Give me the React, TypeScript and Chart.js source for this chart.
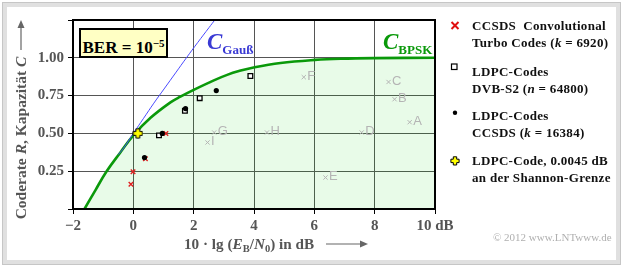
import React, { useEffect, useRef } from "react";
import { Chart, registerables } from "chart.js";

Chart.register(...registerables);

// C_BPSK curve (x in dB, R)
const bpskX = [-1.62, -1.25, -0.89, -0.43, 0.0, 0.57, 1.23, 1.56, 2.0, 2.67, 3.11, 3.5, 4.02, 4.88, 6.02, 6.87, 8.0, 10.0];
const bpskR = [0, 0.127, 0.248, 0.374, 0.487, 0.603, 0.705, 0.743, 0.788, 0.851, 0.887, 0.912, 0.938, 0.966, 0.986, 0.994, 0.998, 1.0];
// C_Gauss curve
const gaussX = [-0.5, -0.33, 0.0, 0.34, 0.68, 1.04, 1.4, 1.76, 2.13, 2.51, 2.7];
const gaussR = [0.36, 0.4, 0.5, 0.6, 0.7, 0.8, 0.9, 1.0, 1.1, 1.2, 1.25];
// CCSDS convolutional turbo codes (k = 6920)
const turboX = [-0.08, -0.01, 0.4, 1.08];
const turboR = [0.163, 0.247, 0.332, 0.5];
// LDPC DVB-S2 (n = 64800)
const dvbX = [0.85, 1.71, 2.2, 3.88];
const dvbR = [0.487, 0.65, 0.733, 0.88];
// LDPC CCSDS (k = 16384)
const ccsdsX = [0.37, 0.96, 1.73, 2.75];
const ccsdsR = [0.34, 0.5, 0.664, 0.783];
// LDPC code 0.0045 dB from Shannon limit
const shannonX = [0.15];
const shannonR = [0.5];
// other (gray) systems
const otherLabels = ["A", "B", "C", "D", "E", "F", "G", "H", "I"];
const otherX = [9.16, 8.66, 8.46, 7.57, 6.37, 5.65, 2.68, 4.43, 2.46];
const otherR = [0.574, 0.726, 0.84, 0.506, 0.208, 0.872, 0.506, 0.506, 0.44];
// axes
const xMin = -2, xMax = 10, xStep = 2;
const yMin = 0, yMax = 1.25, yStep = 0.25;

const pts = (xs: number[], ys: number[]) => xs.map((x, i) => ({ x, y: ys[i] }));

const SERIF = "'Liberation Serif', 'Times New Roman', serif";
const SANS = "'Liberation Sans', Arial, sans-serif";

function makePlus(): HTMLCanvasElement {
  const c = document.createElement("canvas");
  c.width = 11;
  c.height = 11;
  const g = c.getContext("2d")!;
  const m = 5.5, a = 4.6, w = 1.9;
  g.beginPath();
  g.moveTo(m - w, m - a);
  g.lineTo(m + w, m - a);
  g.lineTo(m + w, m - w);
  g.lineTo(m + a, m - w);
  g.lineTo(m + a, m + w);
  g.lineTo(m + w, m + w);
  g.lineTo(m + w, m + a);
  g.lineTo(m - w, m + a);
  g.lineTo(m - w, m + w);
  g.lineTo(m - a, m + w);
  g.lineTo(m - a, m - w);
  g.lineTo(m - w, m - w);
  g.closePath();
  g.fillStyle = "#ffff00";
  g.fill();
  g.strokeStyle = "#000";
  g.lineWidth = 1;
  g.stroke();
  return c;
}

const frameAndLabels = {
  id: "frameAndLabels",
  afterDatasetsDraw(chart: any) {
    const { ctx, chartArea } = chart;
    chart.data.datasets.forEach((ds: any, i: number) => {
      if (!ds.pointLabels) return;
      const meta = chart.getDatasetMeta(i);
      ctx.save();
      ctx.font = `13px ${SANS}`;
      ctx.fillStyle = "#b4b4b4";
      ctx.textBaseline = "middle";
      ctx.textAlign = "left";
      meta.data.forEach((el: any, j: number) => {
        ctx.fillText(ds.pointLabels[j], el.x + 3.5, el.y - 1);
      });
      ctx.restore();
    });
    ctx.save();
    ctx.strokeStyle = "#000";
    ctx.lineWidth = 2;
    ctx.strokeRect(chartArea.left, chartArea.top, chartArea.right - chartArea.left, chartArea.bottom - chartArea.top);
    ctx.restore();
  },
};

function ChartCanvas() {
  const ref = useRef<HTMLCanvasElement | null>(null);
  useEffect(() => {
    if (!ref.current) return;
    const plus = makePlus();
    const chart = new Chart(ref.current, {
      type: "line",
      data: {
        datasets: [
          {
            label: "C_BPSK",
            data: pts(bpskX, bpskR),
            borderColor: "#0a990a",
            borderWidth: 2.6,
            pointRadius: 0,
            fill: "origin",
            backgroundColor: "rgba(0, 215, 0, 0.09)",
            tension: 0.4,
            order: 10,
          },
          {
            label: "C_Gauss",
            data: pts(gaussX, gaussR),
            borderColor: "#4a4aff",
            borderWidth: 1,
            pointRadius: 0,
            fill: false,
            tension: 0.4,
            order: 9,
          },
          {
            label: "other",
            data: pts(otherX, otherR),
            showLine: false,
            pointStyle: "crossRot",
            pointRadius: 3,
            borderColor: "#b4b4b4",
            borderWidth: 1,
            pointLabels: otherLabels,
            order: 8,
          } as any,
          {
            label: "Turbo",
            data: pts(turboX, turboR),
            showLine: false,
            pointStyle: "crossRot",
            pointRadius: 3.2,
            borderColor: "#e02020",
            borderWidth: 1.4,
            order: 5,
          },
          {
            label: "DVB-S2",
            data: pts(dvbX, dvbR),
            showLine: false,
            pointStyle: "rect",
            pointRadius: 3.3,
            backgroundColor: "#ffffff",
            borderColor: "#000",
            borderWidth: 1.3,
            order: 4,
          },
          {
            label: "CCSDS",
            data: pts(ccsdsX, ccsdsR),
            showLine: false,
            pointStyle: "circle",
            pointRadius: 2.6,
            backgroundColor: "#000",
            borderColor: "#000",
            borderWidth: 0,
            order: 3,
          },
          {
            label: "Shannon",
            data: pts(shannonX, shannonR),
            showLine: false,
            pointStyle: plus,
            pointRadius: 5,
            order: 1,
          },
        ],
      },
      options: {
        responsive: false,
        maintainAspectRatio: false,
        animation: false,
        events: [],
        layout: { padding: { left: 0, top: 20, right: 188, bottom: 0 } },
        plugins: { legend: { display: false }, tooltip: { enabled: false } },
        scales: {
          x: {
            type: "linear",
            min: xMin,
            max: xMax,
            afterFit: (s: any) => {
              s.height = 58;
            },
            ticks: {
              stepSize: xStep,
              padding: 3,
              maxRotation: 0,
              color: "#555",
              font: { family: SERIF, size: 15, weight: "bold" },
              callback: (v: any) => {
                const n = Number(v);
                if (n === xMax) return n + " dB";
                return n < 0 ? "\u2212" + Math.abs(n) : String(n);
              },
            },
            grid: { color: "#555", lineWidth: 1, tickLength: 5, tickColor: "#000", drawTicks: true },
            border: { display: false },
          },
          y: {
            type: "linear",
            min: yMin,
            max: yMax,
            afterFit: (s: any) => {
              s.width = 73;
            },
            ticks: {
              stepSize: yStep,
              padding: 4,
              color: "#555",
              font: { family: SERIF, size: 15, weight: "bold" },
              callback: (v: any) => {
                const n = Number(v);
                if (n <= yMin + 1e-6 || n >= yMax - 1e-6) return "";
                return n.toFixed(2);
              },
            },
            grid: { color: "#555", lineWidth: 1, tickLength: 5, tickColor: "#000", drawTicks: true },
            border: { display: false },
          },
        },
      } as any,
      plugins: [frameAndLabels],
    });
    return () => chart.destroy();
  }, []);
  return <canvas ref={ref} width={623} height={267} style={{ display: "block", position: "absolute", left: 0, top: 0 }} />;
}

const sub = (t: string, size = 10.5): React.ReactNode => (
  <span style={{ fontSize: size, verticalAlign: "-0.3em", fontStyle: "normal" }}>{t}</span>
);

const legendText: React.CSSProperties = {
  position: "absolute",
  left: 472,
  fontFamily: SERIF,
  fontWeight: "bold",
  fontSize: 13,
  lineHeight: "17px",
  color: "#111",
  whiteSpace: "pre",
  letterSpacing: 0.3,
};

export default function App() {
  return (
    <div style={{ position: "fixed", left: 0, top: 0, width: 623, height: 267, background: "#fff", overflow: "hidden" }}>
      <ChartCanvas />
      {/* outer frame */}
      <div style={{ position: "absolute", left: 2, top: 2, width: 619, height: 263, boxSizing: "border-box", border: "1px solid #c6c6c6", pointerEvents: "none" }} />
      <div style={{ position: "absolute", left: 3, top: 3, width: 617, height: 261, boxSizing: "border-box", border: "4px solid #e0e0e0", pointerEvents: "none" }} />

      <svg width={623} height={267} style={{ position: "absolute", left: 0, top: 0, pointerEvents: "none" }}>
        {/* y-axis arrow */}
        <line x1={21} y1={50} x2={21} y2={26} stroke="#666" strokeWidth={1.2} />
        <polygon points="21,20 17.5,28 24.5,28" fill="#666" />
        {/* x-axis arrow */}
        <line x1={326} y1={244} x2={362} y2={244} stroke="#666" strokeWidth={1.2} />
        <polygon points="368,244 360,240.5 360,247.5" fill="#666" />
        {/* legend markers */}
        <line x1={451.5} y1={22} x2={458.5} y2={29} stroke="#e01010" strokeWidth={2} />
        <line x1={458.5} y1={22} x2={451.5} y2={29} stroke="#e01010" strokeWidth={2} />
        <rect x={451.5} y={64} width={5.5} height={5.5} fill="#fff" stroke="#000" strokeWidth={1.2} />
        <circle cx={455} cy={112.7} r={2.2} fill="#000" />
        <polygon
          points="453.3,156.8 456.7,156.8 456.7,159.2 459.1,159.2 459.1,162.6 456.7,162.6 456.7,165 453.3,165 453.3,162.6 450.9,162.6 450.9,159.2 453.3,159.2"
          fill="#ffff00"
          stroke="#000"
          strokeWidth={1}
        />
      </svg>

      {/* BER box */}
      <div
        style={{
          position: "absolute",
          left: 79,
          top: 28,
          width: 89,
          height: 30,
          boxSizing: "border-box",
          border: "2px solid #000",
          background: "#ffffc4",
          fontFamily: SERIF,
          fontWeight: "bold",
          fontSize: 17,
          lineHeight: "26px",
          textAlign: "center",
          color: "#000",
        }}
      >
        BER = 10<span style={{ fontSize: 11, verticalAlign: "0.55em" }}>−5</span>
      </div>

      {/* curve labels */}
      <div style={{ position: "absolute", left: 207, top: 30, fontFamily: SERIF, fontWeight: "bold", color: "#3a3ad4", lineHeight: "24px", whiteSpace: "nowrap" }}>
        <span style={{ fontSize: 23, fontStyle: "italic" }}>C</span>
        <span style={{ fontSize: 13, verticalAlign: "-0.35em" }}>Gauß</span>
      </div>
      <div style={{ position: "absolute", left: 383, top: 30, fontFamily: SERIF, fontWeight: "bold", color: "#0a990a", lineHeight: "24px", whiteSpace: "nowrap" }}>
        <span style={{ fontSize: 23, fontStyle: "italic" }}>C</span>
        <span style={{ fontSize: 13, verticalAlign: "-0.35em" }}>BPSK</span>
      </div>

      {/* axis titles */}
      <div
        style={{
          position: "absolute",
          left: 21 - 90,
          top: 138 - 10,
          width: 180,
          height: 20,
          lineHeight: "20px",
          textAlign: "center",
          transform: "rotate(-90deg)",
          transformOrigin: "50% 50%",
          fontFamily: SERIF,
          fontWeight: "bold",
          fontSize: 15.5,
          color: "#555",
          whiteSpace: "nowrap",
        }}
      >
        Coderate <i>R</i>, Kapazität <i>C</i>
      </div>
      <div style={{ position: "absolute", left: 184, top: 235, fontFamily: SERIF, fontWeight: "bold", fontSize: 15.2, lineHeight: "18px", color: "#555", whiteSpace: "nowrap" }}>
        10 · lg (<i>E</i>
        {sub("B")}/<i>N</i>
        {sub("0")}) in dB
      </div>

      {/* legend text */}
      <div style={{ ...legendText, top: 16.5 }}>{"CCSDS  Convolutional\n"}Turbo Codes (<i>k</i> = 6920)</div>
      <div style={{ ...legendText, top: 62.5 }}>{"LDPC-Codes\n"}DVB-S2 (<i>n</i> = 64800)</div>
      <div style={{ ...legendText, top: 106.5 }}>{"LDPC-Codes\n"}CCSDS (<i>k</i> = 16384)</div>
      <div style={{ ...legendText, top: 152 }}>{"LDPC-Code, 0.0045 dB\nan der Shannon-Grenze"}</div>

      {/* copyright */}
      <div style={{ position: "absolute", left: 493, top: 231, fontFamily: SERIF, fontSize: 11, color: "#b0b0b0", whiteSpace: "nowrap" }}>
        © 2012 www.LNTwww.de
      </div>
    </div>
  );
}
